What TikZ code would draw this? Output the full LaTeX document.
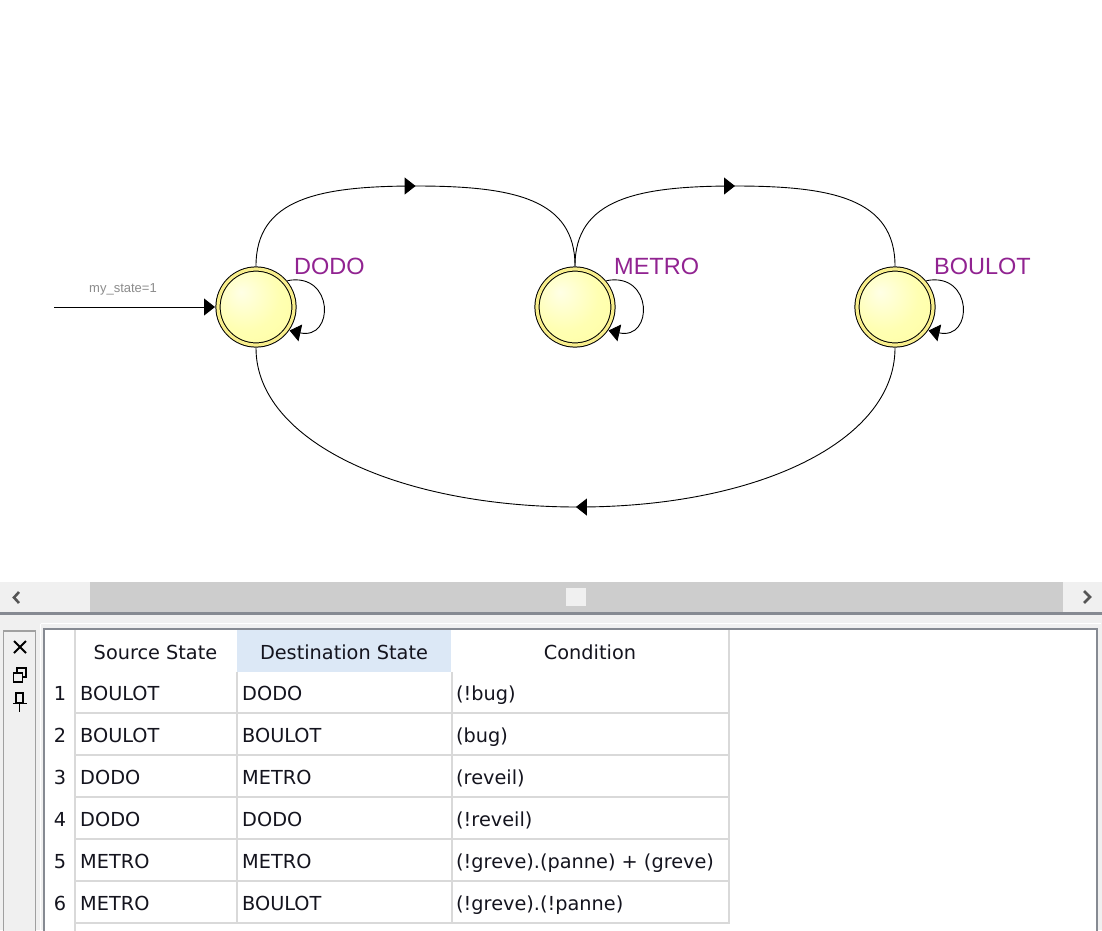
\documentclass[tikz,border=0pt]{standalone}
\usepackage{fontspec}
\setmainfont{Liberation Sans}
\newfontfamily\tabfont{DejaVu Sans}
\usetikzlibrary{arrows.meta,decorations.markings}
\definecolor{ringyellow}{RGB}{248,238,140}
\definecolor{statepurple}{RGB}{145,35,145}
\definecolor{uigray}{RGB}{240,240,240}
\definecolor{trackgray}{RGB}{205,205,205}
\definecolor{darkline}{RGB}{134,138,146}
\definecolor{panelborder}{RGB}{160,160,160}
\definecolor{gridgray}{RGB}{217,217,217}
\definecolor{hdrblue}{RGB}{220,232,246}
\definecolor{chevgray}{RGB}{85,85,85}
\definecolor{tabtext}{RGB}{20,20,30}
\definecolor{initgray}{RGB}{140,140,140}
\pgfdeclareradialshading{stateball}{\pgfpoint{-10bp}{10bp}}{rgb(0bp)=(1,1,0.9);rgb(22bp)=(1,1,0.7);rgb(50bp)=(1,0.99,0.6);rgb(70bp)=(1,0.99,0.6)}
\tikzset{
  >={Triangle[length=11pt,width=17pt]},
  statenode/.style={circle, minimum size=76pt, inner sep=0pt, outer sep=3pt,
    draw=black, line width=1pt, double=ringyellow, double distance=3.2pt,
    shade, shading=stateball},
  statelbl/.style={anchor=base west, inner sep=0pt, text=statepurple,
    font=\fontsize{23.5}{26}\selectfont},
  conn/.style={draw=black, line width=0.9pt},
  midarrow/.style={postaction={decorate}, decoration={markings,
    mark=at position 0.5 with {\arrow{>}}}},
  initlbl/.style={inner sep=0pt, text=initgray, font=\fontsize{13}{15}\selectfont},
  cell/.style={anchor=base west, inner sep=0pt, text=tabtext,
    font={\tabfont\fontsize{19.3}{22}\selectfont}},
  hdr/.style={cell, anchor=base},
  rownum/.style={cell, anchor=base},
  grid/.style={draw=gridgray, line width=2pt},
  chev/.style={draw=chevgray, line width=2.6pt},
}
\begin{document}
\begin{tikzpicture}[x=1pt,y=-1pt]
\useasboundingbox (0,0) rectangle (1102,930);
\fill[white] (0,0) rectangle (1102,930);

% ---------- state diagram ----------
\node[statenode] (dodo) at (256,307) {};
\node[statenode] (metro) at (575,307) {};
\node[statenode] (boulot) at (895,307) {};

\node[statelbl] (dodolbl) at (294,274) {DODO};
\node[statelbl] (metrolbl) at (614,274) {METRO};
\node[statelbl] (boulotlbl) at (934,274) {BOULOT};

\coordinate (init) at (54,307);
\draw[conn,->] (init) -- (dodo.west);
\node[initlbl] (initlabel) at (123,289) {my\_state=1};

\coordinate (top1) at (416,186);
\coordinate (top2) at (735,186);
\coordinate (bot) at (578,507);

\draw[conn,midarrow] (dodo.north) .. controls +(0,-67) and +(-98,0) .. (top1)
  .. controls +(98,0) and +(0,-67) .. (metro.north);
\draw[conn,midarrow] (metro.north) .. controls +(0,-67) and +(-98,0) .. (top2)
  .. controls +(98,0) and +(0,-67) .. (boulot.north);
\draw[conn,midarrow] (boulot.south) .. controls +(0,93) and +(180,0) .. (bot)
  .. controls +(-180,0) and +(0,93) .. (dodo.south);

\draw[conn,->] (dodo.40) .. controls +(47,-9) and +(45,10) .. (dodo.-35);
\draw[conn,->] (metro.40) .. controls +(47,-9) and +(45,10) .. (metro.-35);
\draw[conn,->] (boulot.40) .. controls +(47,-9) and +(45,10) .. (boulot.-35);

% ---------- scrollbar ----------
\fill[uigray] (0,582) rectangle (1102,930);
\fill[trackgray] (90,582) rectangle (1063,612);
\fill[uigray] (566,588) rectangle (586,606);
\fill[darkline] (0,612) rectangle (1102,615);
\draw[chev] (19,592) -- (14,597.5) -- (19,603);
\draw[chev] (1084,591) -- (1090,597) -- (1084,603);

% ---------- left panel ----------
\draw[draw=panelborder, line width=1.5pt, fill=uigray] (3.5,631) rectangle (35.5,945);
\draw[black, line width=2pt] (14,641) -- (26,653) (26,641) -- (14,653);
\draw[black, line width=1.4pt] (17,668) rectangle (26,677);
\draw[black, line width=2.2pt] (17,668) -- (26,668);
\draw[black, line width=1.4pt, fill=uigray] (13.5,673) rectangle (22.5,682);
\draw[black, line width=2.2pt] (13.5,673) -- (22.5,673);
\draw[black, line width=1.4pt] (16,693) rectangle (23,703);
\draw[black, line width=1.4pt] (13,703.5) -- (27,703.5) (19.5,703.5) -- (19.5,712);

% ---------- table ----------
\draw[draw=white, line width=1pt] (40.5,623.5) -- (1100.5,623.5);
\draw[draw=white, line width=1pt] (40.5,623.5) -- (40.5,935);
\fill[white] (44,629) rectangle (1097,935);
\fill[hdrblue] (237,630) rectangle (451,672);
\foreach \yy in {713,755,797,839,881,923} {\draw[grid] (75,\yy) -- (729,\yy);}
\draw[grid] (75,630) -- (75,935);
\draw[grid] (729,630) -- (729,924);
\draw[grid] (237,672) -- (237,924);
\draw[grid] (452,672) -- (452,924);
\draw[draw=darkline, line width=2pt] (44,940) -- (44,629) -- (1097,629) -- (1097,940);

\node[hdr] (h1) at (155.5,659) {Source State};
\node[hdr] (h2) at (344,659) {Destination State};
\node[hdr] (h3) at (590,659) {Condition};

\node[rownum] (n1) at (60,700) {1};
\node[cell] (s1) at (80,700) {BOULOT};
\node[cell] (d1) at (242,700) {DODO};
\node[cell] (c1) at (456,700) {(!bug)};

\node[rownum] (n2) at (60,742) {2};
\node[cell] (s2) at (80,742) {BOULOT};
\node[cell] (d2) at (242,742) {BOULOT};
\node[cell] (c2) at (456,742) {(bug)};

\node[rownum] (n3) at (60,784) {3};
\node[cell] (s3) at (80,784) {DODO};
\node[cell] (d3) at (242,784) {METRO};
\node[cell] (c3) at (456,784) {(reveil)};

\node[rownum] (n4) at (60,826) {4};
\node[cell] (s4) at (80,826) {DODO};
\node[cell] (d4) at (242,826) {DODO};
\node[cell] (c4) at (456,826) {(!reveil)};

\node[rownum] (n5) at (60,868) {5};
\node[cell] (s5) at (80,868) {METRO};
\node[cell] (d5) at (242,868) {METRO};
\node[cell] (c5) at (456,868) {(!greve).(panne) + (greve)};

\node[rownum] (n6) at (60,910) {6};
\node[cell] (s6) at (80,910) {METRO};
\node[cell] (d6) at (242,910) {BOULOT};
\node[cell] (c6) at (456,910) {(!greve).(!panne)};
\end{tikzpicture}
\end{document}
